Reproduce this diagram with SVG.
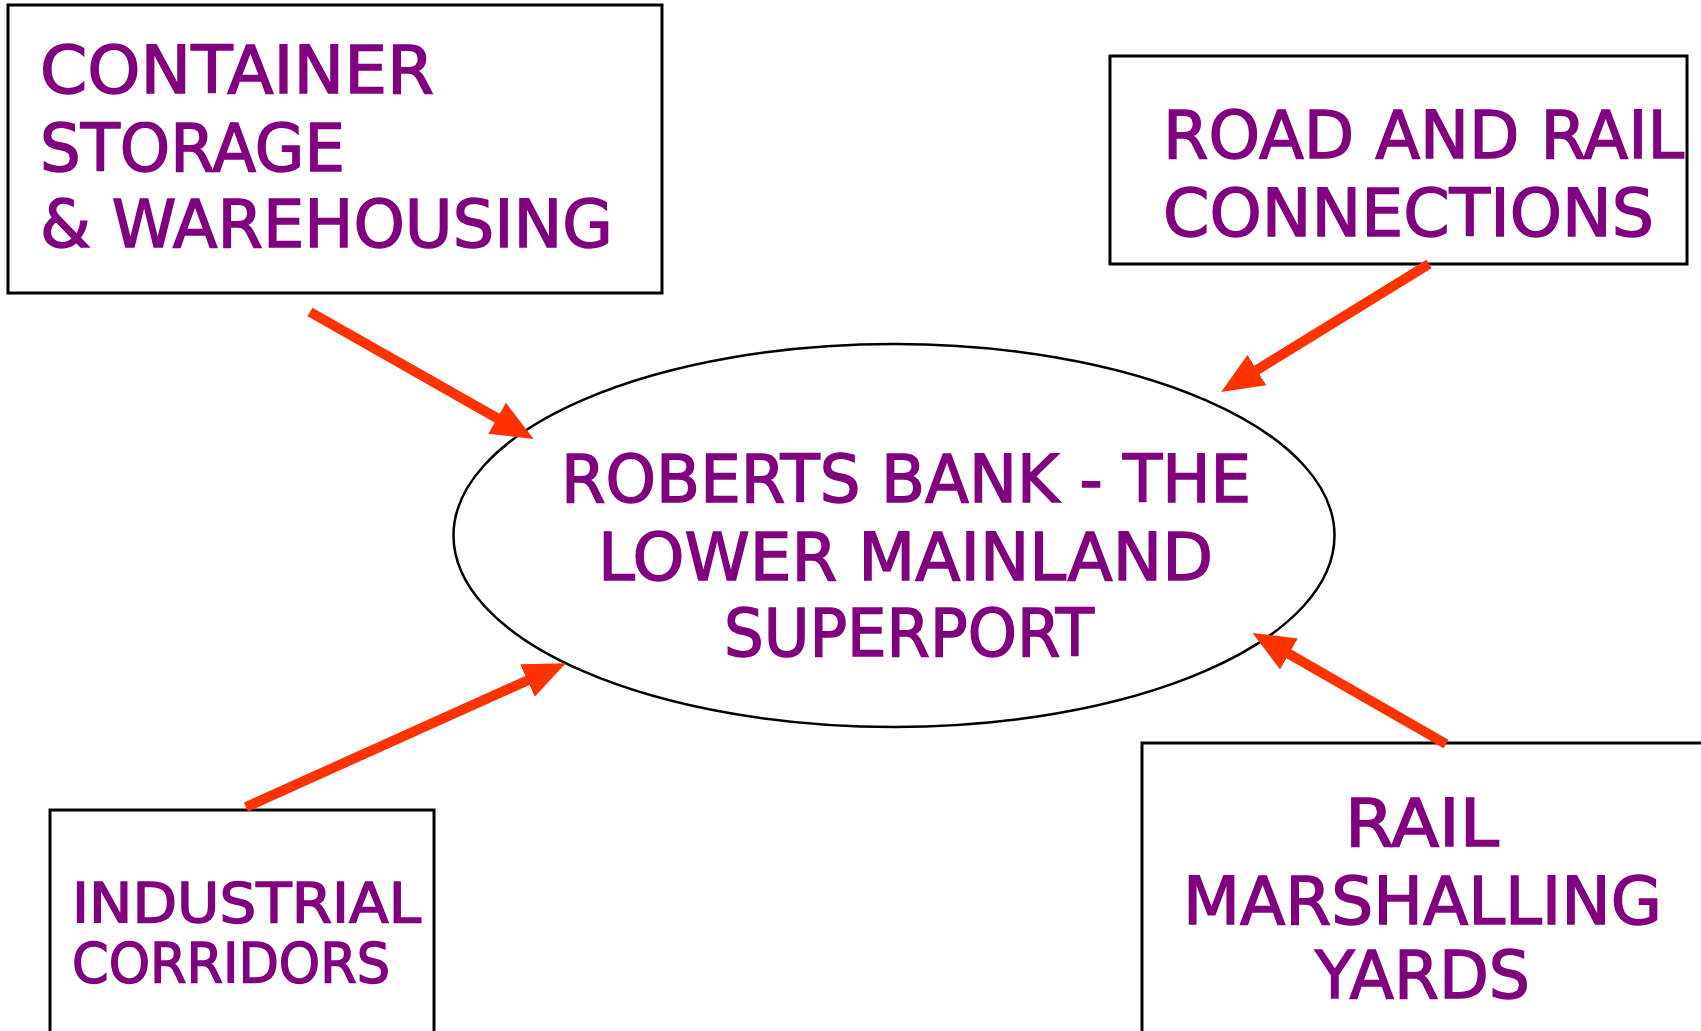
<svg xmlns="http://www.w3.org/2000/svg" width="1701" height="1031" viewBox="0 0 1701 1031">
<style>
.box{fill:#fff;stroke:#000;stroke-width:3}
.ell{fill:#fff;stroke:#000;stroke-width:2.5}
.t{font-family:"DejaVu Sans","Liberation Sans",sans-serif;fill:#800080;stroke:#800080;stroke-width:1.5;font-size:66px}
.ts{font-size:55px}
.arr{stroke:#FF3300;stroke-width:10;fill:none;marker-end:url(#ah)}
</style>
<defs>
<marker id="ah" markerUnits="userSpaceOnUse" markerWidth="42" markerHeight="36" viewBox="0 0 40 34" refX="1" refY="17" orient="auto">
<path d="M0,0 L40,17 L0,34 z" fill="#FF3300"/>
</marker>
</defs>
<rect width="1701" height="1031" fill="#fff"/>
<g id="container-storage">
<rect class="box" x="8" y="5" width="654" height="288"/>
<text class="t" x="40" y="93" textLength="394" lengthAdjust="spacingAndGlyphs">CONTAINER</text>
<text class="t" x="40" y="171" textLength="305" lengthAdjust="spacingAndGlyphs">STORAGE</text>
<text class="t" x="40" y="247" textLength="573" lengthAdjust="spacingAndGlyphs">&amp; WAREHOUSING</text>
</g>
<g id="road-rail">
<rect class="box" x="1110" y="56" width="577" height="208"/>
<text class="t" x="1163" y="158" textLength="521" lengthAdjust="spacingAndGlyphs">ROAD AND RAIL</text>
<text class="t" x="1163" y="236" textLength="491" lengthAdjust="spacingAndGlyphs">CONNECTIONS</text>
</g>
<g id="superport">
<ellipse class="ell" cx="894" cy="535.5" rx="440.5" ry="191.5"/>
<text class="t" x="561" y="502" textLength="690" lengthAdjust="spacingAndGlyphs">ROBERTS BANK - THE</text>
<text class="t" x="598" y="580" textLength="615" lengthAdjust="spacingAndGlyphs">LOWER MAINLAND</text>
<text class="t" x="724" y="656" textLength="370" lengthAdjust="spacingAndGlyphs">SUPERPORT</text>
</g>
<g id="industrial">
<rect class="box" x="50" y="810" width="384" height="240"/>
<text class="t ts" x="72" y="922" textLength="349" lengthAdjust="spacingAndGlyphs">INDUSTRIAL</text>
<text class="t ts" x="72" y="982" textLength="318" lengthAdjust="spacingAndGlyphs">CORRIDORS</text>
</g>
<g id="rail-yards">
<rect class="box" x="1142" y="743" width="580" height="300"/>
<text class="t" x="1345" y="846" textLength="154" lengthAdjust="spacingAndGlyphs">RAIL</text>
<text class="t" x="1183" y="924" textLength="479" lengthAdjust="spacingAndGlyphs">MARSHALLING</text>
<text class="t" x="1315" y="998" textLength="215" lengthAdjust="spacingAndGlyphs">YARDS</text>
</g>
<g id="connectors">
<line class="arr" x1="310" y1="312" x2="498" y2="418.7"/>
<line class="arr" x1="1429" y1="264" x2="1256" y2="370.6"/>
<line class="arr" x1="246" y1="807" x2="528.4" y2="680"/>
<line class="arr" x1="1446" y1="744" x2="1288" y2="653.4"/>
</g>
</svg>
